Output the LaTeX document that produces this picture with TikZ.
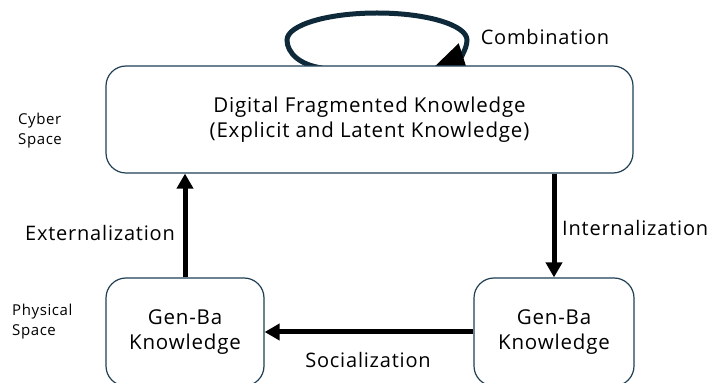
\documentclass[tikz,border=0pt]{standalone}
\usepackage{fontspec}
\setmainfont{Open Sans}[LetterSpace=4]
\usetikzlibrary{arrows.meta}
\definecolor{navy}{HTML}{0E2A3A}
\definecolor{edge}{HTML}{1F3F55}
\tikzset{
  kbox/.style={draw=edge, line width=1.2pt, fill=white, rounded corners=20pt,
    align=center, inner sep=0pt, font=\fontsize{20.5}{25}\selectfont},
  flow/.style={line width=5pt, -{Triangle[length=15pt,width=16pt]}},
  lab/.style={font=\fontsize{20}{25}\selectfont, inner sep=0pt},
  side/.style={font=\fontsize{15}{20}\selectfont, align=left, inner sep=0pt, anchor=west},
}
\begin{document}
\begin{tikzpicture}[x=1pt,y=1pt]
\useasboundingbox (0,0) rectangle (710,383);
% knowledge boxes (the cyber box is drawn after the loop so it hides the loop's foot)
\node[kbox, minimum width=158pt, minimum height=108pt] (gbl) at (185,51) {Gen-Ba\\Knowledge};
\node[kbox, minimum width=160pt, minimum height=108pt] (gbr) at (554,51) {Gen-Ba\\Knowledge};
% combination: elliptical self-loop above the cyber-space box
\coordinate (loopstart) at (322,315);
\coordinate (loopend) at (433,315);
\draw[navy, line width=5pt, -{Triangle[length=32pt,width=30pt,black]}]
  (loopstart) .. controls (300,318) and (287,330) .. (287,343)
  .. controls (287,357.9) and (327.3,370) .. (377,370)
  .. controls (426.7,370) and (467,357.9) .. (467,343)
  .. controls (467,333) and (458,323) .. (loopend);
\node[kbox, minimum width=527pt, minimum height=107pt] (dfk) at (369.5,263.5)
  {Digital Fragmented Knowledge\\(Explicit and Latent Knowledge)};
% conversions
\draw[flow] (gbl.north) -- (gbl.north |- dfk.south);
\draw[flow] (dfk.south -| gbr.north) -- (gbr.north);
\draw[flow] (gbr.west) -- (gbl.east);
% labels
\node[lab] (ext) at (100,150) {Externalization};
\node[lab, anchor=west] (int) at (562,155) {Internalization};
\node[lab] (soc) at (368,23) {Socialization};
\node[lab] (comb) at (545,346) {Combination};
\node[side] (cyber) at (18,252) {Cyber\\Space};
\node[side] (phys) at (12,61) {Physical\\Space};
\end{tikzpicture}
\end{document}
